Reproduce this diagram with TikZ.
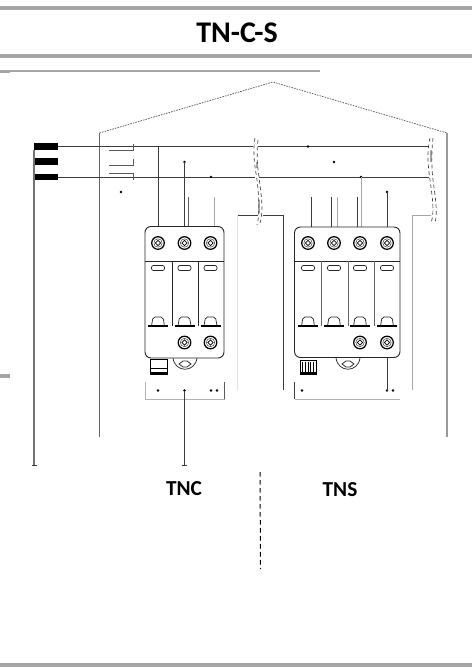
\documentclass[tikz,border=0pt]{standalone}
\usepackage{fontspec}
\setmainfont{Carlito}
\usetikzlibrary{calc}
\definecolor{barg}{HTML}{A6A6A6}
\definecolor{wireg}{HTML}{3C3C3C}
\tikzset{
  bar/.style={fill=barg,draw=none},
  wire/.style={draw=wireg,line width=0.6pt},
  midwire/.style={draw=black!65,line width=0.55pt},
  palewire/.style={draw=black!35,line width=0.6pt},
  faintwire/.style={draw=black!12,line width=0.6pt},
  body/.style={draw=black!85,line width=0.7pt,fill=white,rounded corners=4.5pt},
  inner/.style={draw=black!85,line width=0.55pt},
  jdot/.style={circle,fill=black,inner sep=0pt,minimum size=2pt},
  busbar/.style={fill=black,draw=none},
  breakline/.style={draw=black!75,line width=0.5pt,dash pattern=on 2.8pt off 2.2pt},
  label/.style={font=\bfseries\fontsize{16}{18}\selectfont,text=black,inner sep=0pt},
}
\newcommand{\screw}[2]{%
  \draw[black,line width=0.95pt,fill=white] (#1,#2) circle[radius=6.3];
  \draw[black!80,line width=0.35pt] (#1,#2) circle[radius=4.2];
  \draw[black,line width=0.5pt] (#1-2.6,#2)--(#1,#2-2.6)--(#1+2.6,#2)--(#1,#2+2.6)--cycle;
}
\newcommand{\pole}[2]{%
  \draw[inner,rounded corners=1.5pt] (#1-6.5,#2+4.5) rectangle (#1+6.5,#2+9.5);
  \draw[inner,rounded corners=1.5pt] (#1-6.5,326)--(#1-5,317)--(#1+5,317)--(#1+6.5,326);
  \draw[black,line width=1pt] (#1-10,326)--(#1+10,326);
}
\newcommand{\mount}[1]{%
  \draw[inner,fill=white] (#1-12,358) .. controls (#1-10,373) and (#1+10,373) .. (#1+12,358);
  \draw[inner] (#1-6,364)--(#1-2,361)--(#1+2,361)--(#1+6,364)--(#1+2,367)--(#1-2,367)--cycle;
}
\begin{document}
\begin{tikzpicture}[x=0.75pt,y=-0.75pt]
\useasboundingbox (0,0) rectangle (472,668);
% page rules
\fill[bar] (0,5.5) rectangle (472,9.5);
\fill[bar] (0,54) rectangle (472,58);
\fill[black!35] (0,70) rectangle (320,72);
\fill[bar] (0,71) rectangle (10,73);
\fill[bar] (0,374) rectangle (10,378);
\fill[bar] (0,663) rectangle (472,667);
\node[font=\bfseries\fontsize{22.5}{25}\selectfont,inner sep=0pt] (title) at (237,33) {TN-C-S};
% house outline
\coordinate (hl) at (99.5,133); \coordinate (ht) at (273,82); \coordinate (hr) at (447,133);
\draw[draw=black!60,line width=0.6pt,dash pattern=on 1.2pt off 0.8pt] (hl)--(ht)--(hr);
\draw[draw=black!60,line width=0.6pt] (hl)--(99.5,437);
\draw[draw=black!40,line width=0.8pt] (hr)--(447,437);
% bus bars
\fill[busbar] (34,143) rectangle (58,150);
\fill[busbar] (34,158) rectangle (58,165);
\fill[busbar] (34,173.5) rectangle (58,180);
\draw[wire] (58,146.5)--(253,146.5);
\draw[wire] (258,146.5)--(428,146.5);
\draw[wire] (58,177.5)--(255,177.5);
\draw[wire] (259,177.5)--(429,177.5);
\coordinate (pe) at (34,465);
\draw[draw=black!55,line width=1pt] (34,150)--(pe);
\draw[wire] (31.5,465.5)--(36.5,465.5);
% stubs
\draw[midwire] (109,150.5)--(133,150.5)--(133,144);
\draw[midwire] (109,165)--(133,165)--(133,158.5);
\draw[midwire] (109,173.5)--(133,173.5)--(133,180);
% junction dots
\foreach \p in {(121,192),(184.5,162),(211,177),(308,146.5),(334,162),(361,177),(387,192),(158,390.5),(184.5,390.5),(211,390.5),(217,390.5),(302,390.5),(387,390.5),(393,390.5)}
  \node[jdot] at \p {};
% vertical feeds, TNC
\draw[wire] (158,146.5)--(158,227);
\draw[wire] (184.5,162)--(184.5,227);
\draw[midwire] (188,197)--(188,227);
\draw[palewire] (214,197)--(214,227);
% vertical feeds, TNS
\draw[wire] (311,197)--(311,227);
\draw[wire] (331,197)--(331,227);
\draw[palewire] (337,197)--(337,227);
\draw[wire] (357.5,197)--(357.5,227);
\draw[palewire] (361,177)--(361,227);
\draw[wire] (387,192)--(387,227);
% return wires
\draw[faintwire] (237.5,215.5)--(237.5,390);
\draw[wire] (237.5,215.5)--(258,215.5);
\draw[wire] (263,215.5)--(283,215.5)--(283,390);
\draw[palewire] (431,215.5)--(412.7,215.5)--(412.7,390);
\draw[palewire,line width=1pt] (431,150)--(431,162);
\draw[palewire,line width=1pt] (257,162)--(257,168);
\draw[palewire,line width=1pt] (259,200)--(259,213);
% cable breaks
\draw[breakline] (255,138) .. controls (252,155) and (256,172) .. (257,180) .. controls (259,195) and (260,215) .. (257,225);
\draw[breakline] (258,140) .. controls (256,155) and (258,170) .. (259,177) .. controls (261,195) and (264,210) .. (260,223);
\draw[breakline] (430,138) .. controls (426,155) and (429,172) .. (430,180) .. controls (432,195) and (435,212) .. (431,223);
\draw[breakline] (433,138) .. controls (431,155) and (432,172) .. (433,180) .. controls (435,195) and (438,212) .. (435,223);
% brackets below modules
\draw[draw=black!30,line width=0.6pt] (145,382)--(145,399)--(224.5,399);
\draw[midwire] (224.5,399)--(224.5,382);
\draw[wire] (294.5,382)--(294.5,399);
\draw[draw=black!30,line width=0.6pt] (294.5,399)--(400,399);
% earth lead TNC
\draw[wire] (184.5,390.5)--(184.5,465.5);
\draw[wire] (182,465.5)--(187,465.5);
\draw[wire] (387,357)--(387,390.5);
% TNC module
\mount{185}
\draw[black,line width=0.6pt,fill=white] (150,359) rectangle (167,374);
\draw[black,line width=0.6pt] (150,368)--(167,368);
\fill[black] (150,371.5) rectangle (167,374);
\draw[body] (145,226.5) rectangle (224,358);
\draw[inner] (145,261)--(224,261);
\draw[inner] (172,261)--(172,326);
\draw[inner] (198,261)--(198,326);
\pole{158}{261}\pole{184.5}{261}\pole{210.5}{261}
\screw{158}{243}\screw{184.5}{243}\screw{210.5}{243}
\screw{184.5}{342.5}\screw{210.5}{342.5}
% TNS module
\mount{348}
\draw[black,line width=0.6pt,fill=white] (300,360) rectangle (316,374);
\foreach \x in {302.5,305,308,310.5,313.5} \draw[black,line width=0.6pt] (\x,362)--(\x,373);
\fill[black] (300,372) rectangle (316,374);
\draw[body] (294.5,227) rectangle (400,357.5);
\draw[inner] (294.5,261)--(400,261);
\draw[inner,black!60,line width=0.7pt] (321,261)--(321,326);
\draw[inner,black!60,line width=0.7pt] (348,261)--(348,326);
\draw[inner,black!60,line width=0.7pt] (374,261)--(374,326);
\pole{308}{261}\pole{334}{261}\pole{360}{261}\pole{387}{261}
\screw{308}{243}\screw{334}{243}\screw{360}{243}\screw{387}{243}
\screw{360}{342.5}\screw{387}{342.5}
% labels
\node[label] (tnc) at (184,489) {TNC};
\node[label] (tns) at (340,490) {TNS};
\draw[black,line width=0.75pt,dash pattern=on 3.4pt off 2.6pt] (260,472)--(260.5,569);
\end{tikzpicture}
\end{document}
